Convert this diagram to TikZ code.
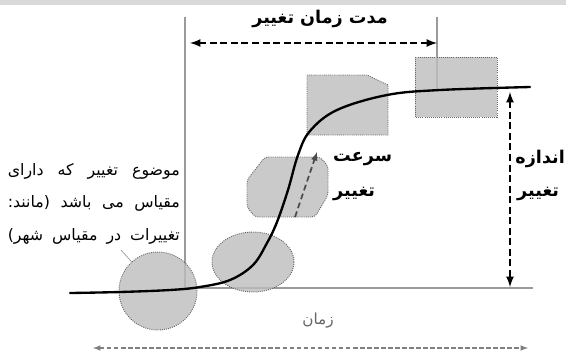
\documentclass[tikz,border=0pt]{standalone}
\usepackage{fontspec}
\newfontfamily\farsi[Script=Arabic]{DejaVu Sans}
\TeXXeTstate=1
\usetikzlibrary{shapes.geometric}
\tikzset{>=latex}
\definecolor{blobgray}{HTML}{BDBDBD}
\definecolor{linegray}{HTML}{9A9A9A}
\tikzset{
  blob/.style={fill=blobgray,fill opacity=0.8,draw=black!60,densely dotted,line width=0.8pt},
  head/.style={font=\farsi\bfseries\fontsize{15}{17}\selectfont,inner sep=0pt},
  note/.style={font=\farsi\fontsize{13.5}{15}\selectfont,inner sep=0pt,anchor=east},
  bigdash/.style={line width=2pt,dash pattern=on 6pt off 3pt},
}
\newcommand{\noteline}[1]{\makebox[5.16cm][s]{\beginR #1\endR}}

\begin{document}
\begin{tikzpicture}[x=0.03cm,y=-0.03cm]
            \draw[draw=none,use as bounding box] (0,0) rectangle (566,356);
            \fill[black!15] (0,0) rectangle (566,5);
            % guides
            \draw[linegray,line width=0.9pt] (185,17) -- (185,288);
            \draw[linegray,line width=0.9pt] (437,17) -- (437,90);
            \draw[linegray,line width=1.6pt] (185,288) -- (533,288);
            % shapes
            \node[blob,circle,minimum size=2.34cm] (city) at (158,291) {};
            \node[blob,ellipse,minimum width=2.46cm,minimum height=1.8cm] (start) at (253,262) {};
            \draw[blob,rounded corners=3pt] (265,157) -- (320,157) -- (328,166) -- (328,195)
                -- (315,217) -- (255,217) -- (247,207) -- (247,180) -- cycle;
            \draw[blob] (307,75) -- (367,75) -- (388,85) -- (388,135) -- (307,135) -- cycle;
            \draw[blob] (415,57) rectangle (497,117);
            % curve
            \draw[line width=2pt,line cap=round] plot[smooth,tension=0.6] coordinates {
                (70,293) (120,292) (170,290) (200,287) (230,280) (253,265) (267,243)
                (277,222) (288,190) (298,155) (310,131) (337,110) (387,95) (440,90) (530,87)};
            % arrows
            \coordinate (dl) at (190,43);
            \coordinate (dr) at (437,43);
            \coordinate (sz1) at (510,92);
            \coordinate (sz2) at (510,287);
            \coordinate (sp1) at (295,217);
            \coordinate (sp2) at (317,152);
            \coordinate (t1) at (93,348);
            \coordinate (t2) at (528,348);
            \coordinate (lead) at (121,250);
            \draw[<->,bigdash] (dl) -- (dr);
            \draw[<->,bigdash] (sz1) -- (sz2);
            \draw[->,black!70,line width=1.5pt,dash pattern=on 5pt off 3pt] (sp1) -- (sp2);
            \draw[<->,black!50,line width=1.2pt,dash pattern=on 4pt off 2pt] (t1) -- (t2);
            \draw[linegray,line width=0.6pt] (lead) -- (city);
            % labels
            \node[head] (dur) at (320,19) {\beginR مدت زمان تغییر\endR};
            \node[head,anchor=west] (rate1) at (333,159) {\beginR سرعت\endR};
            \node[head,anchor=west] (rate2) at (333,194) {\beginR تغییر\endR};
            \node[head,anchor=east] (size1) at (565,159) {\beginR اندازه\endR};
            \node[head,anchor=west] (size2) at (517,194) {\beginR تغییر\endR};
            \node[font=\farsi\fontsize{13}{15}\selectfont,black!60,inner sep=0pt] (time) at (318,321) {\beginR زمان\endR};
            \node[note] (l1) at (180,171) {\noteline{موضوع تغییر که دارای}};
            \node[note] (l2) at (180,203) {\noteline{مقیاس می باشد (مانند:}};
            \node[note] (l3) at (180,236) {\noteline{تغییرات در مقیاس شهر)}};
        \end{tikzpicture}
\end{document}
